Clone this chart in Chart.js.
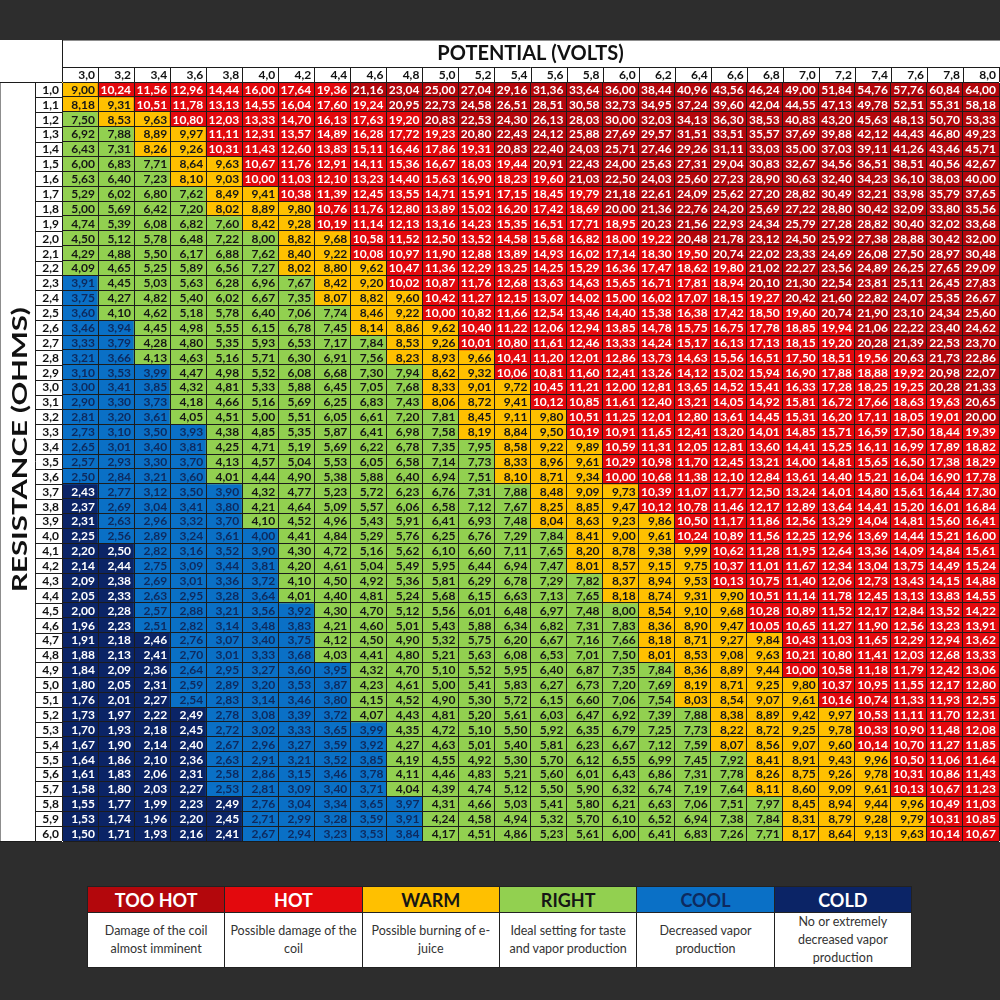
<!DOCTYPE html>
<html lang="en">
<head>
<meta charset="UTF-8">
<title>Potential / Resistance power chart</title>
<script src="https://cdn.jsdelivr.net/npm/chart.js"></script>
<style>
  html, body { margin: 0; padding: 0; background: #2d2d2d; }
  body { width: 1000px; height: 1000px; position: relative; overflow: hidden; font-family: Lato, sans-serif; }
  #wrap { position: absolute; left: 0; top: 40px; width: 1000px; height: 802px; background: #fff; }
  #legend { position: absolute; left: 87px; top: 886px; width: 825px; border-collapse: collapse; table-layout: fixed; background: #fff; }
  #legend th { height: 25px; font-size: 18px; font-weight: 700; padding: 0; border: 1px solid #222; }
  #legend td { height: 52px; font-size: 12.5px; line-height: 18px; color: #333; text-align: center; vertical-align: middle; border: 1px solid #222; padding: 0 2px; white-space: pre-line; }
</style>
</head>
<body>
<div id="wrap"><canvas id="grid" width="1000" height="802"></canvas></div>
<table id="legend"><tr id="legendHead"></tr><tr id="legendBody"></tr></table>

<script>
const volts = [3.0, 3.2, 3.4, 3.6, 3.8, 4.0, 4.2, 4.4, 4.6, 4.8, 5.0, 5.2, 5.4, 5.6, 5.8, 6.0, 6.2, 6.4, 6.6, 6.8, 7.0, 7.2, 7.4, 7.6, 7.8, 8.0];

const ohms = [1.0, 1.1, 1.2, 1.3, 1.4, 1.5, 1.6, 1.7, 1.8, 1.9, 2.0, 2.1, 2.2, 2.3, 2.4, 2.5, 2.6, 2.7, 2.8, 2.9, 3.0,
              3.1, 3.2, 3.3, 3.4, 3.5, 3.6, 3.7, 3.8, 3.9, 4.0, 4.1, 4.2, 4.3, 4.4, 4.5, 4.6, 4.7, 4.8, 4.9, 5.0,
              5.1, 5.2, 5.3, 5.4, 5.5, 5.6, 5.7, 5.8, 5.9, 6.0];

// watts shown in each cell, one row per resistance
const watts = [
  [9.00, 10.24, 11.56, 12.96, 14.44, 16.00, 17.64, 19.36, 21.16, 23.04, 25.00, 27.04, 29.16, 31.36, 33.64, 36.00, 38.44, 40.96, 43.56, 46.24, 49.00, 51.84, 54.76, 57.76, 60.84, 64.00],
  [8.18, 9.31, 10.51, 11.78, 13.13, 14.55, 16.04, 17.60, 19.24, 20.95, 22.73, 24.58, 26.51, 28.51, 30.58, 32.73, 34.95, 37.24, 39.60, 42.04, 44.55, 47.13, 49.78, 52.51, 55.31, 58.18],
  [7.50, 8.53, 9.63, 10.80, 12.03, 13.33, 14.70, 16.13, 17.63, 19.20, 20.83, 22.53, 24.30, 26.13, 28.03, 30.00, 32.03, 34.13, 36.30, 38.53, 40.83, 43.20, 45.63, 48.13, 50.70, 53.33],
  [6.92, 7.88, 8.89, 9.97, 11.11, 12.31, 13.57, 14.89, 16.28, 17.72, 19.23, 20.80, 22.43, 24.12, 25.88, 27.69, 29.57, 31.51, 33.51, 35.57, 37.69, 39.88, 42.12, 44.43, 46.80, 49.23],
  [6.43, 7.31, 8.26, 9.26, 10.31, 11.43, 12.60, 13.83, 15.11, 16.46, 17.86, 19.31, 20.83, 22.40, 24.03, 25.71, 27.46, 29.26, 31.11, 33.03, 35.00, 37.03, 39.11, 41.26, 43.46, 45.71],
  [6.00, 6.83, 7.71, 8.64, 9.63, 10.67, 11.76, 12.91, 14.11, 15.36, 16.67, 18.03, 19.44, 20.91, 22.43, 24.00, 25.63, 27.31, 29.04, 30.83, 32.67, 34.56, 36.51, 38.51, 40.56, 42.67],
  [5.63, 6.40, 7.23, 8.10, 9.03, 10.00, 11.03, 12.10, 13.23, 14.40, 15.63, 16.90, 18.23, 19.60, 21.03, 22.50, 24.03, 25.60, 27.23, 28.90, 30.63, 32.40, 34.23, 36.10, 38.03, 40.00],
  [5.29, 6.02, 6.80, 7.62, 8.49, 9.41, 10.38, 11.39, 12.45, 13.55, 14.71, 15.91, 17.15, 18.45, 19.79, 21.18, 22.61, 24.09, 25.62, 27.20, 28.82, 30.49, 32.21, 33.98, 35.79, 37.65],
  [5.00, 5.69, 6.42, 7.20, 8.02, 8.89, 9.80, 10.76, 11.76, 12.80, 13.89, 15.02, 16.20, 17.42, 18.69, 20.00, 21.36, 22.76, 24.20, 25.69, 27.22, 28.80, 30.42, 32.09, 33.80, 35.56],
  [4.74, 5.39, 6.08, 6.82, 7.60, 8.42, 9.28, 10.19, 11.14, 12.13, 13.16, 14.23, 15.35, 16.51, 17.71, 18.95, 20.23, 21.56, 22.93, 24.34, 25.79, 27.28, 28.82, 30.40, 32.02, 33.68],
  [4.50, 5.12, 5.78, 6.48, 7.22, 8.00, 8.82, 9.68, 10.58, 11.52, 12.50, 13.52, 14.58, 15.68, 16.82, 18.00, 19.22, 20.48, 21.78, 23.12, 24.50, 25.92, 27.38, 28.88, 30.42, 32.00],
  [4.29, 4.88, 5.50, 6.17, 6.88, 7.62, 8.40, 9.22, 10.08, 10.97, 11.90, 12.88, 13.89, 14.93, 16.02, 17.14, 18.30, 19.50, 20.74, 22.02, 23.33, 24.69, 26.08, 27.50, 28.97, 30.48],
  [4.09, 4.65, 5.25, 5.89, 6.56, 7.27, 8.02, 8.80, 9.62, 10.47, 11.36, 12.29, 13.25, 14.25, 15.29, 16.36, 17.47, 18.62, 19.80, 21.02, 22.27, 23.56, 24.89, 26.25, 27.65, 29.09],
  [3.91, 4.45, 5.03, 5.63, 6.28, 6.96, 7.67, 8.42, 9.20, 10.02, 10.87, 11.76, 12.68, 13.63, 14.63, 15.65, 16.71, 17.81, 18.94, 20.10, 21.30, 22.54, 23.81, 25.11, 26.45, 27.83],
  [3.75, 4.27, 4.82, 5.40, 6.02, 6.67, 7.35, 8.07, 8.82, 9.60, 10.42, 11.27, 12.15, 13.07, 14.02, 15.00, 16.02, 17.07, 18.15, 19.27, 20.42, 21.60, 22.82, 24.07, 25.35, 26.67],
  [3.60, 4.10, 4.62, 5.18, 5.78, 6.40, 7.06, 7.74, 8.46, 9.22, 10.00, 10.82, 11.66, 12.54, 13.46, 14.40, 15.38, 16.38, 17.42, 18.50, 19.60, 20.74, 21.90, 23.10, 24.34, 25.60],
  [3.46, 3.94, 4.45, 4.98, 5.55, 6.15, 6.78, 7.45, 8.14, 8.86, 9.62, 10.40, 11.22, 12.06, 12.94, 13.85, 14.78, 15.75, 16.75, 17.78, 18.85, 19.94, 21.06, 22.22, 23.40, 24.62],
  [3.33, 3.79, 4.28, 4.80, 5.35, 5.93, 6.53, 7.17, 7.84, 8.53, 9.26, 10.01, 10.80, 11.61, 12.46, 13.33, 14.24, 15.17, 16.13, 17.13, 18.15, 19.20, 20.28, 21.39, 22.53, 23.70],
  [3.21, 3.66, 4.13, 4.63, 5.16, 5.71, 6.30, 6.91, 7.56, 8.23, 8.93, 9.66, 10.41, 11.20, 12.01, 12.86, 13.73, 14.63, 15.56, 16.51, 17.50, 18.51, 19.56, 20.63, 21.73, 22.86],
  [3.10, 3.53, 3.99, 4.47, 4.98, 5.52, 6.08, 6.68, 7.30, 7.94, 8.62, 9.32, 10.06, 10.81, 11.60, 12.41, 13.26, 14.12, 15.02, 15.94, 16.90, 17.88, 18.88, 19.92, 20.98, 22.07],
  [3.00, 3.41, 3.85, 4.32, 4.81, 5.33, 5.88, 6.45, 7.05, 7.68, 8.33, 9.01, 9.72, 10.45, 11.21, 12.00, 12.81, 13.65, 14.52, 15.41, 16.33, 17.28, 18.25, 19.25, 20.28, 21.33],
  [2.90, 3.30, 3.73, 4.18, 4.66, 5.16, 5.69, 6.25, 6.83, 7.43, 8.06, 8.72, 9.41, 10.12, 10.85, 11.61, 12.40, 13.21, 14.05, 14.92, 15.81, 16.72, 17.66, 18.63, 19.63, 20.65],
  [2.81, 3.20, 3.61, 4.05, 4.51, 5.00, 5.51, 6.05, 6.61, 7.20, 7.81, 8.45, 9.11, 9.80, 10.51, 11.25, 12.01, 12.80, 13.61, 14.45, 15.31, 16.20, 17.11, 18.05, 19.01, 20.00],
  [2.73, 3.10, 3.50, 3.93, 4.38, 4.85, 5.35, 5.87, 6.41, 6.98, 7.58, 8.19, 8.84, 9.50, 10.19, 10.91, 11.65, 12.41, 13.20, 14.01, 14.85, 15.71, 16.59, 17.50, 18.44, 19.39],
  [2.65, 3.01, 3.40, 3.81, 4.25, 4.71, 5.19, 5.69, 6.22, 6.78, 7.35, 7.95, 8.58, 9.22, 9.89, 10.59, 11.31, 12.05, 12.81, 13.60, 14.41, 15.25, 16.11, 16.99, 17.89, 18.82],
  [2.57, 2.93, 3.30, 3.70, 4.13, 4.57, 5.04, 5.53, 6.05, 6.58, 7.14, 7.73, 8.33, 8.96, 9.61, 10.29, 10.98, 11.70, 12.45, 13.21, 14.00, 14.81, 15.65, 16.50, 17.38, 18.29],
  [2.50, 2.84, 3.21, 3.60, 4.01, 4.44, 4.90, 5.38, 5.88, 6.40, 6.94, 7.51, 8.10, 8.71, 9.34, 10.00, 10.68, 11.38, 12.10, 12.84, 13.61, 14.40, 15.21, 16.04, 16.90, 17.78],
  [2.43, 2.77, 3.12, 3.50, 3.90, 4.32, 4.77, 5.23, 5.72, 6.23, 6.76, 7.31, 7.88, 8.48, 9.09, 9.73, 10.39, 11.07, 11.77, 12.50, 13.24, 14.01, 14.80, 15.61, 16.44, 17.30],
  [2.37, 2.69, 3.04, 3.41, 3.80, 4.21, 4.64, 5.09, 5.57, 6.06, 6.58, 7.12, 7.67, 8.25, 8.85, 9.47, 10.12, 10.78, 11.46, 12.17, 12.89, 13.64, 14.41, 15.20, 16.01, 16.84],
  [2.31, 2.63, 2.96, 3.32, 3.70, 4.10, 4.52, 4.96, 5.43, 5.91, 6.41, 6.93, 7.48, 8.04, 8.63, 9.23, 9.86, 10.50, 11.17, 11.86, 12.56, 13.29, 14.04, 14.81, 15.60, 16.41],
  [2.25, 2.56, 2.89, 3.24, 3.61, 4.00, 4.41, 4.84, 5.29, 5.76, 6.25, 6.76, 7.29, 7.84, 8.41, 9.00, 9.61, 10.24, 10.89, 11.56, 12.25, 12.96, 13.69, 14.44, 15.21, 16.00],
  [2.20, 2.50, 2.82, 3.16, 3.52, 3.90, 4.30, 4.72, 5.16, 5.62, 6.10, 6.60, 7.11, 7.65, 8.20, 8.78, 9.38, 9.99, 10.62, 11.28, 11.95, 12.64, 13.36, 14.09, 14.84, 15.61],
  [2.14, 2.44, 2.75, 3.09, 3.44, 3.81, 4.20, 4.61, 5.04, 5.49, 5.95, 6.44, 6.94, 7.47, 8.01, 8.57, 9.15, 9.75, 10.37, 11.01, 11.67, 12.34, 13.04, 13.75, 14.49, 15.24],
  [2.09, 2.38, 2.69, 3.01, 3.36, 3.72, 4.10, 4.50, 4.92, 5.36, 5.81, 6.29, 6.78, 7.29, 7.82, 8.37, 8.94, 9.53, 10.13, 10.75, 11.40, 12.06, 12.73, 13.43, 14.15, 14.88],
  [2.05, 2.33, 2.63, 2.95, 3.28, 3.64, 4.01, 4.40, 4.81, 5.24, 5.68, 6.15, 6.63, 7.13, 7.65, 8.18, 8.74, 9.31, 9.90, 10.51, 11.14, 11.78, 12.45, 13.13, 13.83, 14.55],
  [2.00, 2.28, 2.57, 2.88, 3.21, 3.56, 3.92, 4.30, 4.70, 5.12, 5.56, 6.01, 6.48, 6.97, 7.48, 8.00, 8.54, 9.10, 9.68, 10.28, 10.89, 11.52, 12.17, 12.84, 13.52, 14.22],
  [1.96, 2.23, 2.51, 2.82, 3.14, 3.48, 3.83, 4.21, 4.60, 5.01, 5.43, 5.88, 6.34, 6.82, 7.31, 7.83, 8.36, 8.90, 9.47, 10.05, 10.65, 11.27, 11.90, 12.56, 13.23, 13.91],
  [1.91, 2.18, 2.46, 2.76, 3.07, 3.40, 3.75, 4.12, 4.50, 4.90, 5.32, 5.75, 6.20, 6.67, 7.16, 7.66, 8.18, 8.71, 9.27, 9.84, 10.43, 11.03, 11.65, 12.29, 12.94, 13.62],
  [1.88, 2.13, 2.41, 2.70, 3.01, 3.33, 3.68, 4.03, 4.41, 4.80, 5.21, 5.63, 6.08, 6.53, 7.01, 7.50, 8.01, 8.53, 9.08, 9.63, 10.21, 10.80, 11.41, 12.03, 12.68, 13.33],
  [1.84, 2.09, 2.36, 2.64, 2.95, 3.27, 3.60, 3.95, 4.32, 4.70, 5.10, 5.52, 5.95, 6.40, 6.87, 7.35, 7.84, 8.36, 8.89, 9.44, 10.00, 10.58, 11.18, 11.79, 12.42, 13.06],
  [1.80, 2.05, 2.31, 2.59, 2.89, 3.20, 3.53, 3.87, 4.23, 4.61, 5.00, 5.41, 5.83, 6.27, 6.73, 7.20, 7.69, 8.19, 8.71, 9.25, 9.80, 10.37, 10.95, 11.55, 12.17, 12.80],
  [1.76, 2.01, 2.27, 2.54, 2.83, 3.14, 3.46, 3.80, 4.15, 4.52, 4.90, 5.30, 5.72, 6.15, 6.60, 7.06, 7.54, 8.03, 8.54, 9.07, 9.61, 10.16, 10.74, 11.33, 11.93, 12.55],
  [1.73, 1.97, 2.22, 2.49, 2.78, 3.08, 3.39, 3.72, 4.07, 4.43, 4.81, 5.20, 5.61, 6.03, 6.47, 6.92, 7.39, 7.88, 8.38, 8.89, 9.42, 9.97, 10.53, 11.11, 11.70, 12.31],
  [1.70, 1.93, 2.18, 2.45, 2.72, 3.02, 3.33, 3.65, 3.99, 4.35, 4.72, 5.10, 5.50, 5.92, 6.35, 6.79, 7.25, 7.73, 8.22, 8.72, 9.25, 9.78, 10.33, 10.90, 11.48, 12.08],
  [1.67, 1.90, 2.14, 2.40, 2.67, 2.96, 3.27, 3.59, 3.92, 4.27, 4.63, 5.01, 5.40, 5.81, 6.23, 6.67, 7.12, 7.59, 8.07, 8.56, 9.07, 9.60, 10.14, 10.70, 11.27, 11.85],
  [1.64, 1.86, 2.10, 2.36, 2.63, 2.91, 3.21, 3.52, 3.85, 4.19, 4.55, 4.92, 5.30, 5.70, 6.12, 6.55, 6.99, 7.45, 7.92, 8.41, 8.91, 9.43, 9.96, 10.50, 11.06, 11.64],
  [1.61, 1.83, 2.06, 2.31, 2.58, 2.86, 3.15, 3.46, 3.78, 4.11, 4.46, 4.83, 5.21, 5.60, 6.01, 6.43, 6.86, 7.31, 7.78, 8.26, 8.75, 9.26, 9.78, 10.31, 10.86, 11.43],
  [1.58, 1.80, 2.03, 2.27, 2.53, 2.81, 3.09, 3.40, 3.71, 4.04, 4.39, 4.74, 5.12, 5.50, 5.90, 6.32, 6.74, 7.19, 7.64, 8.11, 8.60, 9.09, 9.61, 10.13, 10.67, 11.23],
  [1.55, 1.77, 1.99, 2.23, 2.49, 2.76, 3.04, 3.34, 3.65, 3.97, 4.31, 4.66, 5.03, 5.41, 5.80, 6.21, 6.63, 7.06, 7.51, 7.97, 8.45, 8.94, 9.44, 9.96, 10.49, 11.03],
  [1.53, 1.74, 1.96, 2.20, 2.45, 2.71, 2.99, 3.28, 3.59, 3.91, 4.24, 4.58, 4.94, 5.32, 5.70, 6.10, 6.52, 6.94, 7.38, 7.84, 8.31, 8.79, 9.28, 9.79, 10.31, 10.85],
  [1.50, 1.71, 1.93, 2.16, 2.41, 2.67, 2.94, 3.23, 3.53, 3.84, 4.17, 4.51, 4.86, 5.23, 5.61, 6.00, 6.41, 6.83, 7.26, 7.71, 8.17, 8.64, 9.13, 9.63, 10.14, 10.67]
];

// per row: where COLD, COOL, RIGHT, WARM and HOT cells end (column count), rest is TOO HOT
const bandEnds = [
  [0,0,0,1,8], [0,0,0,2,9], [0,0,1,3,10], [0,0,2,4,11], [0,0,2,4,12], [0,0,3,5,13], [0,0,3,5,14],
  [0,0,4,6,15], [0,0,4,7,15], [0,0,5,7,16], [0,0,6,8,17], [0,0,6,8,18], [0,0,6,9,19], [0,1,7,9,19],
  [0,1,7,10,20], [0,1,8,10,21], [0,2,8,11,22], [0,2,9,11,22], [0,2,9,12,23], [0,3,10,12,24], [0,3,10,13,24],
  [0,3,10,13,25], [0,3,11,14,25], [0,4,11,14,26], [0,4,12,15,26], [0,4,12,15,26], [0,4,12,15,26],
  [1,5,13,16,26], [1,5,13,16,26], [1,5,13,17,26], [1,6,14,17,26], [2,6,14,18,26], [2,6,14,18,26],
  [2,6,15,18,26], [2,6,15,19,26], [2,7,16,19,26], [2,7,16,19,26], [3,7,16,20,26], [3,7,16,20,26],
  [3,8,17,20,26], [3,8,17,21,26], [3,8,17,21,26], [4,8,18,22,26], [4,9,18,22,26], [4,9,18,22,26],
  [4,9,19,23,26], [4,9,19,23,26], [4,9,19,23,26], [5,10,20,24,26], [5,10,20,24,26], [5,10,20,24,26]
];

const bandNames = ['TOO HOT', 'HOT', 'WARM', 'RIGHT', 'COOL', 'COLD'];
const bandNotes = ['Damage of the coil\nalmost imminent', 'Possible damage of the\ncoil', 'Possible burning of e-\njuice',
                   'Ideal setting for taste\nand vapor production', 'Decreased vapor\nproduction', 'No or extremely\ndecreased vapor\nproduction'];
const bandColors = ['#B3070C', '#E3090D', '#FFC000', '#92D050', '#0A70C6', '#0B2466'];
const bandText = ['#ffffff', '#ffffff', '#161616', '#161616', '#0E2A5E', '#ffffff'];

const fmt = (v, d) => v.toFixed(d).replace('.', ',');

function bandOf(r, c) {
  let k = 0;
  while (k < 5 && c >= bandEnds[r][k]) k++;
  return 5 - k;   // legend order: too hot ... cold
}

// legend table
bandNames.forEach((n, i) => {
  const th = document.createElement('th');
  th.textContent = n;
  th.style.background = bandColors[i];
  th.style.color = bandText[i];
  document.getElementById('legendHead').appendChild(th);
  const td = document.createElement('td');
  td.textContent = bandNotes[i];
  document.getElementById('legendBody').appendChild(td);
});

const LINE = '#1c1c1c';

const cellText = {
  id: 'cellText',
  afterDraw(chart) {
    const {ctx, chartArea: a, scales: {x, y}} = chart;
    const half = (x.getPixelForValue(1) - x.getPixelForValue(0)) / 2;
    ctx.save();
    ctx.textBaseline = 'middle';
    ctx.textAlign = 'right';
    ctx.font = 'bold 12px Lato';

    // numbers in cells
    chart.data.datasets.forEach((ds, r) => {
      chart.getDatasetMeta(r).data.forEach((bar, c) => {
        ctx.fillStyle = bandText[bandOf(r, c)];
        ctx.fillText(fmt(watts[r][c], 2), bar.x + bar.width / 2 - 3, (bar.y + bar.base) / 2 + 0.5);
      });
    });

    ctx.strokeStyle = LINE;
    ctx.lineWidth = 1;
    // header row with volts
    const hTop = a.top - 15;
    ctx.beginPath();
    ctx.moveTo(a.left, Math.round(hTop) + 0.5);
    ctx.lineTo(a.right, Math.round(hTop) + 0.5);
    volts.forEach((v, i) => {
      const xr = Math.round(x.getPixelForValue(i) + half) + 0.5;
      ctx.moveTo(xr, hTop);
      ctx.lineTo(xr, a.top);
    });
    // title cell left edge
    ctx.moveTo(Math.round(a.left) + 0.5, 0);
    ctx.lineTo(Math.round(a.left) + 0.5, a.top);
    // resistance column
    ctx.moveTo(35.5, a.top);
    ctx.lineTo(35.5, a.bottom);
    ctx.moveTo(0, Math.round(a.top) + 0.5);
    ctx.lineTo(a.left, Math.round(a.top) + 0.5);
    ohms.forEach((r, i) => {
      const yb = Math.round(y.getPixelForValue(i + 1)) + 0.5;
      ctx.moveTo(i === ohms.length - 1 ? 0 : 35, yb);
      ctx.lineTo(a.left, yb);
    });
    ctx.stroke();

    ctx.fillStyle = '#111';
    volts.forEach((v, i) => {
      ctx.fillText(fmt(v, 1), x.getPixelForValue(i) + half - 3, a.top - 7);
    });
    ohms.forEach((r, i) => {
      ctx.fillText(fmt(r, 1), a.left - 3, y.getPixelForValue(i + 0.5) + 0.5);
    });

    // vertical axis name, stretched like the original
    ctx.translate(19, (a.top + a.bottom) / 2 - 12);
    ctx.rotate(-Math.PI / 2);
    ctx.scale(1.4, 1);
    ctx.textAlign = 'center';
    ctx.font = 'bold 21px Lato';
    ctx.fillText('RESISTANCE (OHMS)', 0, 1);
    ctx.restore();
  }
};

const datasets = ohms.map((r, i) => ({
  label: fmt(r, 1),
  data: volts.map(() => 1),
  backgroundColor: volts.map((v, c) => bandColors[bandOf(i, c)]),
  borderWidth: 0,
  barPercentage: 1,
  categoryPercentage: 1
}));

new Chart(document.getElementById('grid'), {
  type: 'bar',
  data: { labels: volts.map(v => fmt(v, 1)), datasets },
  plugins: [cellText],
  options: {
    responsive: false,
    animation: false,
    devicePixelRatio: 1,
    layout: { padding: { right: 1, bottom: 1 } },
    plugins: { legend: { display: false }, tooltip: { enabled: false } },
    scales: {
      x: {
        position: 'top',
        stacked: true,
        grid: { offset: true, color: LINE, lineWidth: 1, drawTicks: false, z: 1 },
        border: { color: LINE },
        ticks: { display: false },
        title: { display: true, text: 'POTENTIAL (VOLTS)', color: '#111',
                 font: { family: 'Lato', size: 20, weight: 'bold' }, padding: { top: 2, bottom: 0 } },
        afterFit: s => { s.height = 42; }
      },
      y: {
        stacked: true,
        reverse: true,
        min: 0,
        max: ohms.length,
        grid: { color: LINE, lineWidth: 1, drawTicks: false, z: 1 },
        border: { color: LINE },
        ticks: { display: false },
        afterBuildTicks: s => { s.ticks = ohms.map((r, i) => ({ value: i })).concat([{ value: ohms.length }]); },
        afterFit: s => { s.width = 62; }
      }
    }
  }
});
</script>
</body>
</html>
